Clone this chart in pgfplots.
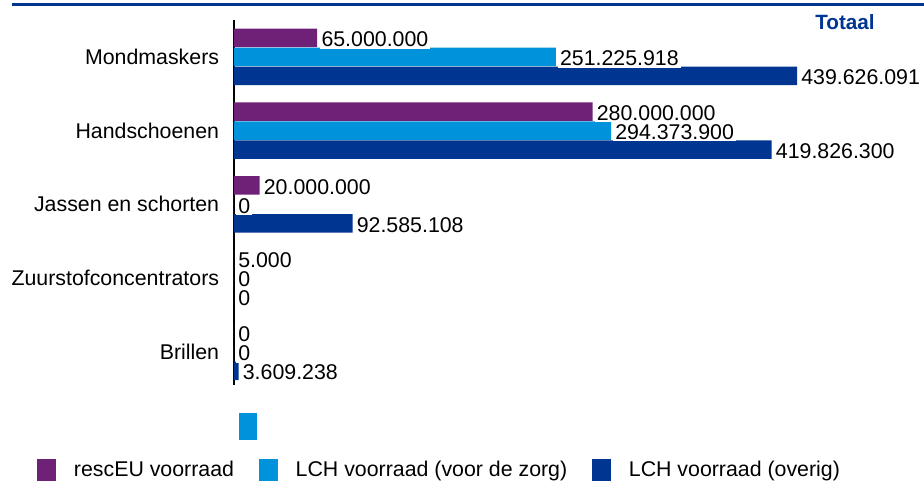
\documentclass[border=0pt]{standalone}
\usepackage{fontspec}
\setmainfont{Liberation Sans}
\usepackage{pgfplots}
\pgfplotsset{compat=1.18}
\definecolor{cPurple}{RGB}{111,32,119}
\definecolor{cLight}{RGB}{0,146,219}
\definecolor{cDark}{RGB}{0,53,145}
\pgfplotsset{sqlegend/.style={legend image code/.code={\fill[##1] (0pt,-8.25pt) rectangle (14.25pt,8.25pt);}}}
\begin{document}
\begin{tikzpicture}
\useasboundingbox (-175.5pt,15pt) rectangle (517.5pt,-349.5pt);
\draw[cDark, line width=2.25pt] (-166.5pt,11.6pt) -- (517.5pt,11.6pt);
\begin{axis}[
  at={(0pt,0pt)}, anchor=north west,
  scale only axis, width=499.5pt, height=273.75pt,
  xmin=0, xmax=520000000, ymin=-0.45, ymax=4.5,
  axis x line=none, axis y line*=left,
  axis line style={black, line width=1.1pt},
  xtick=\empty,
  ytick={0,1,2,3,4},
  yticklabels={Brillen, Zuurstofconcentrators, Jassen en schorten, Handschoenen, Mondmaskers},
  major tick length=0pt,
  yticklabel style={anchor=base east, inner sep=0pt, xshift=-11pt, yshift=-5.7pt, font=\fontsize{16}{19}\selectfont},
  xbar, bar width=13.9pt,
  point meta=explicit symbolic,
  nodes near coords,
  nodes near coords align=horizontal,
  every node near coord/.append style={anchor=west, fill=white, inner xsep=1.4pt, inner ysep=1.25pt, xshift=1.6pt, yshift=-1.1pt, font=\fontsize{16}{19}\selectfont, text=black},
  reverse legend,
  legend style={at={(-0.2958,-0.2329)}, anchor=west, draw=none, fill=none, inner sep=0pt, outer sep=0pt,
    legend columns=3, nodes={inner sep=0pt, font=\fontsize{16}{19}\selectfont},
    /tikz/every odd column/.append style={column sep=13.5pt},
    /tikz/every even column/.append style={column sep=18.5pt}},
  clip=false,
]
\addplot[draw=none, fill=cDark, bar shift=-14.25pt, sqlegend] coordinates {
  (439626091,4) [439.626.091]
  (419826300,3) [419.826.300]
  (92585108,2) [92.585.108]
  (0,1) [0]
  (3609238,0) [3.609.238]
};
\addlegendentry{LCH voorraad (overig)}
\addplot[draw=none, fill=cLight, bar shift=0pt, sqlegend] coordinates {
  (251225918,4) [251.225.918]
  (294373900,3) [294.373.900]
  (0,2) [0]
  (0,1) [0]
  (0,0) [0]
};
\addlegendentry{LCH voorraad (voor de zorg)}
\addplot[draw=none, fill=cPurple, bar shift=14.25pt, sqlegend] coordinates {
  (65000000,4) [65.000.000]
  (280000000,3) [280.000.000]
  (20000000,2) [20.000.000]
  (5000,1) [5.000]
  (0,0) [0]
};
\addlegendentry{rescEU voorraad}
\end{axis}
\fill[cLight] (3.75pt,-294.75pt) rectangle (17.25pt,-315pt);
\node[font=\bfseries\fontsize{15.5}{18}\selectfont, text=cDark] at (458.25pt,-1.5pt) {Totaal};
\end{tikzpicture}
\end{document}
